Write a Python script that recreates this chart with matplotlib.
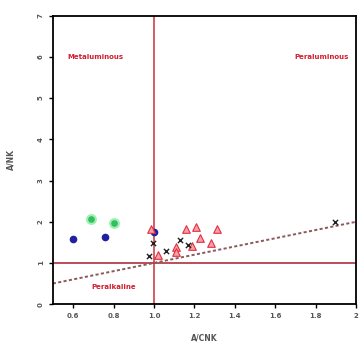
import numpy as np
import matplotlib
matplotlib.use("Agg")
import matplotlib.pyplot as plt

# A/CNK vs A/NK (Shand index)
blue_x = [0.60, 0.76, 1.00]
blue_y = [1.58, 1.63, 1.75]
green_x = [0.69, 0.80]
green_y = [2.06, 1.98]
tri_x = [0.985, 1.02, 1.11, 1.11, 1.16, 1.21, 1.23, 1.28, 1.31, 1.19]
tri_y = [1.82, 1.19, 1.39, 1.27, 1.82, 1.88, 1.60, 1.49, 1.83, 1.40]
cross_x = [0.976, 0.997, 1.06, 1.13, 1.17, 1.895]
cross_y = [1.17, 1.49, 1.30, 1.56, 1.43, 2.00]

x_ticks = [0.6, 0.8, 1.0, 1.2, 1.4, 1.6, 1.8, 2.0]
x_ticklabels = ["0.6", "0.8", "1.0", "1.2", "1.4", "1.6", "1.8", "2"]
y_ticks = [0, 1, 2, 3, 4, 5, 6, 7]

fig = plt.figure(figsize=(3.62, 3.52), dpi=100)
ax = fig.add_axes([0.146, 0.136, 0.838, 0.819])

ax.axvline(1.0, color="#d0404a", lw=1.2, zorder=1)
ax.axhline(1.0, color="#b03040", lw=1.2, zorder=1)
xl = np.array([0.5, 2.0])
ax.plot(xl, xl, ls=(0, (1.6, 1.2)), color="#8a5a5a", lw=1.4, zorder=1)

ax.scatter(green_x, green_y, s=40, color="#30c060", edgecolors="#a0f0b0", linewidths=1.5, zorder=3)
ax.scatter(blue_x, blue_y, s=20, color="#2020a0", zorder=3)
ax.scatter(tri_x, tri_y, s=30, marker="^", color="#f8a0a8", edgecolors="#e03040", linewidths=0.8, zorder=3)
ax.scatter(cross_x, cross_y, s=14, marker="x", color="#202020", linewidths=1.0, zorder=4)

lab = dict(color="#d02030", fontsize=5, ha="center", va="center", fontweight="bold")
ax.text(0.71, 6.0, "Metaluminous", **lab)
ax.text(1.83, 6.0, "Peraluminous", **lab)
ax.text(0.80, 0.41, "Peralkaline", **lab)

ax.set_xlim(0.5, 2.0)
ax.set_ylim(0, 7)
ax.set_xticks(x_ticks)
ax.set_xticklabels(x_ticklabels, fontweight="bold")
ax.set_yticks(y_ticks)
ax.set_yticklabels([str(v) for v in y_ticks], fontweight="bold")
ax.tick_params(labelsize=5, labelcolor="#555555", direction="out", length=3, width=1)
ax.tick_params(axis="y", labelrotation=90)
for s in ax.spines.values():
    s.set_linewidth(1.3)
ax.set_xlabel("A/CNK", fontsize=5.5, color="#555555", labelpad=10, fontweight="bold")
ax.set_ylabel("A/NK", fontsize=5.5, color="#555555", labelpad=16, fontweight="bold")

fig.savefig("out.png", dpi=100)
